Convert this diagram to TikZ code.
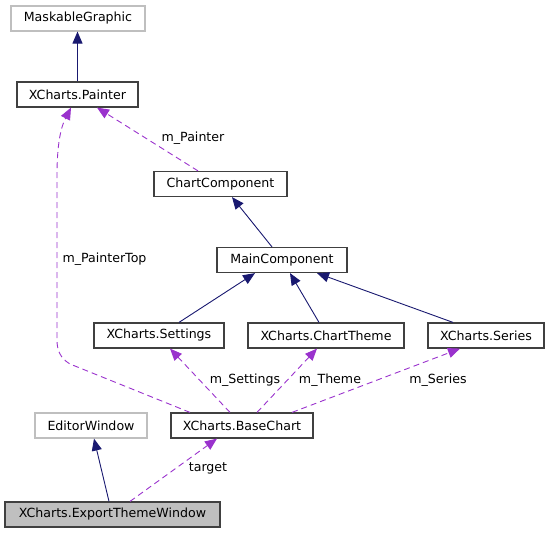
\documentclass[tikz,border=0pt]{standalone}
\usepackage{fontspec}
\setmainfont{DejaVu Sans}
\usetikzlibrary{arrows.meta}
\definecolor{inhblue}{HTML}{191970}
\definecolor{usepurple}{HTML}{9A32CD}

\begin{document}
\begin{tikzpicture}[x = 1pt, y = -1pt,
    every node/.style = {font = \fontsize{12.6}{15}\selectfont},
    cls/.style = {draw = black!75, line width = 1.2pt, minimum height = 25pt,
      inner sep = 0pt},
    extcls/.style = {cls, draw = black!25},
    curcls/.style = {cls, fill = black!25},
    inh/.style = {draw = inhblue, line width = .9pt,
      -{Triangle[width = 10pt, length = 12pt]}},
    uses/.style = {draw = usepurple, line width = .9pt,
      dash pattern = on 6pt off 4pt,
      -{Triangle[width = 10pt, length = 12pt]}}]
    \useasboundingbox (0,0) rectangle (549,533);
    % classes
    \node [extcls, minimum width = 134pt] (mg) at (78,18.5) {MaskableGraphic};
    \node [cls, minimum width = 121pt] (pt) at (77.5,94.5) {XCharts.Painter};
    \node [cls, minimum width = 133pt] (cc) at (220.5,184) {ChartComponent};
    \node [cls, minimum width = 130pt] (mc) at (282,260) {MainComponent};
    \node [cls, minimum width = 130pt] (st) at (159,335.5) {XCharts.Settings};
    \node [cls, minimum width = 156pt] (th) at (326,335.5) {XCharts.ChartTheme};
    \node [cls, minimum width = 116pt] (se) at (486,335.5) {XCharts.Series};
    \node [extcls, minimum width = 112pt] (ed) at (91,425.5) {EditorWindow};
    \node [cls, minimum width = 142pt] (bc) at (242,425.5) {XCharts.BaseChart};
    \node [curcls, minimum width = 215pt] (ex) at (112.5,514.5)
      {XCharts.ExportThemeWindow};
    % inheritance
    \draw [inh] (pt.north) -- (pt.north |- mg.south);
    \draw [inh] ([xshift = -10pt]mc.north) -- ([xshift = 11.5pt]cc.south);
    \draw [inh] ([xshift = 20pt]st.north) -- ([xshift = -27pt]mc.south);
    \draw [inh] ([xshift = -7pt]th.north) -- ([xshift = 8pt]mc.south);
    \draw [inh] ([xshift = -33pt]se.north) -- ([xshift = 35pt]mc.south);
    \draw [inh] ([xshift = -3.5pt]ex.north) -- ([xshift = 3pt]ed.south);
    % usage
    \draw [uses] ([xshift = -22.5pt]cc.north) -- ([xshift = 19.5pt]pt.south);
    \draw [uses] ([xshift = -52pt]bc.north) -- (70,364)
      .. controls (60,358) and (57,350) .. (57,340) -- (57,175)
      .. controls (57,140) and (62,125) .. ([xshift = -6.5pt]pt.south);
    \draw [uses] ([xshift = -12pt]bc.north) -- ([xshift = 11pt]st.south);
    \draw [uses] ([xshift = 15pt]bc.north) -- ([xshift = -9pt]th.south);
    \draw [uses] ([xshift = 50pt]bc.north) -- ([xshift = -26pt]se.south);
    \draw [uses] ([xshift = 17.5pt]ex.north) -- ([xshift = -25pt]bc.south);
    % labels
    \node (lpainter) at (193,138) {m\_Painter};
    \node (lpaintertop) at (104.5,259) {m\_PainterTop};
    \node (lsettings) at (245,380) {m\_Settings};
    \node (ltheme) at (330,380) {m\_Theme};
    \node (lseries) at (438,380) {m\_Series};
    \node (ltarget) at (208,468) {target};
  \end{tikzpicture}
\end{document}
